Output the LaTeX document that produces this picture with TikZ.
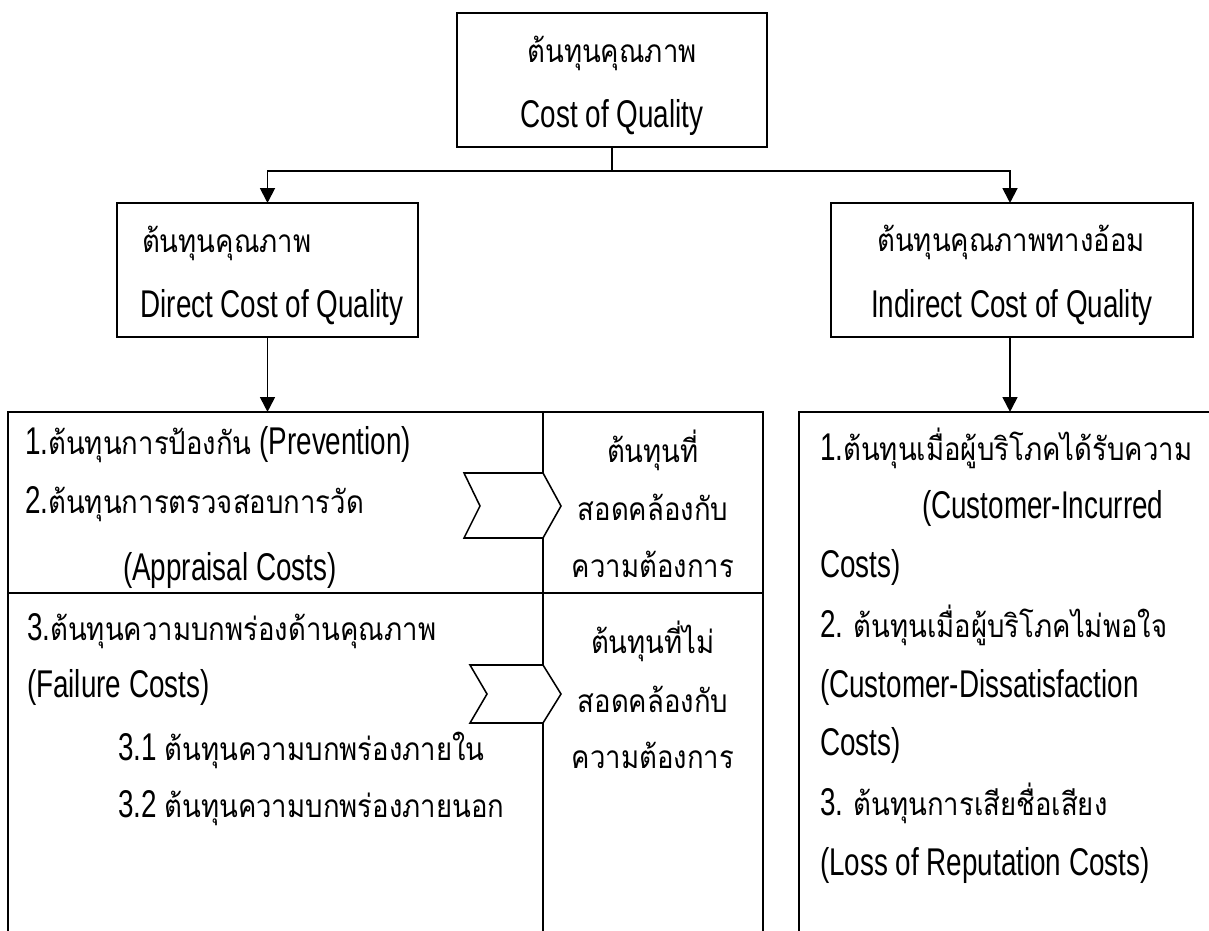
\documentclass[tikz,border=0pt]{standalone}
\usepackage{fontspec}
\setmainfont{Liberation Sans}[FakeStretch=0.72]
\newfontfamily\thaifont[Script=Thai,FakeStretch=0.87]{Loma}
\usetikzlibrary{arrows.meta}
% Thai runs are set in Loma at their own size
\newcommand\T[1]{{\fontsize{22.5}{26}\thaifont #1}}

\begin{document}
\begin{tikzpicture}[x=0.025cm,y=-0.025cm,
  every node/.style={font=\fontsize{27.5}{31}\selectfont, inner sep=0pt, outer sep=0pt},
  frame/.style={draw, line width=1.5pt, fill=none},
  divider/.style={line width=0.9pt},
  arr/.style={line width=1.4pt, -{Triangle[width=10.5pt,length=10.5pt]}},
  link/.style={line width=1.4pt},
  chev/.style={draw, line width=1.1pt, fill=white, line join=miter},
  lbl/.style={anchor=base west},
  cbl/.style={anchor=base}]
\useasboundingbox (0,0) rectangle (1209,931);
\fill[white] (0,0) rectangle (1209,931);
\clip (0,0) rectangle (1209,931);

% boxes
\node[frame, minimum width=7.75cm,   minimum height=3.35cm] (top)      at (612,80)    {};
\node[frame, minimum width=7.525cm,  minimum height=3.35cm] (direct)   at (267.5,270) {};
\node[frame, minimum width=9.05cm,   minimum height=3.35cm] (indirect) at (1012,270)  {};
\node[frame, minimum width=18.875cm, minimum height=14.7cm] (leftbox)  at (385.5,706) {};
\node[frame, minimum width=11.525cm, minimum height=14.7cm] (rightbox) at (1029.5,706) {};

% connectors
\coordinate (bus) at (612,171);
\draw[link] (top.south) -- (bus);
\draw[arr] (bus) -| (direct.north);
\draw[arr] (bus) -| ([xshift=-0.05cm]indirect.north);
\draw[arr] (direct.south) -- (direct.south |- leftbox.north);
\draw[arr] ([xshift=-0.05cm]indirect.south) -- ([xshift=-0.05cm]indirect.south |- rightbox.north);

% dividers inside the left box
\coordinate (colx) at (543,412);
\draw[divider] (colx) -- (543,1000);
\draw[divider] (leftbox.west |- 0,593) -- (leftbox.east |- 0,593);

% chevrons
\draw[chev] (464,473) -- (543,473) -- (561,506) -- (543,538) -- (464,538) -- (480,506) -- cycle;
\draw[chev] (470,665) -- (543,665) -- (561,694) -- (543,723) -- (470,723) -- (487,694) -- cycle;

% top box text
\node[cbl] (topth) at (612,63)  {\T{ต้นทุนคุณภาพ}};
\node[cbl] (topen) at (612,128) {Cost of Quality};

% direct / indirect text
\node[lbl] (dirth) at (142,253) {\T{ต้นทุนคุณภาพ}};
\node[cbl] (diren) at (272,318) {Direct Cost of Quality};
\node[cbl] (indth) at (1011,252) {\T{ต้นทุนคุณภาพทางอ้อม}};
\node[cbl] (inden) at (1012,318) {Indirect Cost of Quality};

% left box items
\node[lbl] (l1) at (25,454)  {1.\T{ต้นทุนการป้องกัน} (Prevention)};
\node[lbl] (l2) at (25,513)  {2.\T{ต้นทุนการตรวจสอบการวัด}};
\node[lbl] (l3) at (123,580) {(Appraisal Costs)};
\node[lbl] (l4) at (27,640)  {3.\T{ต้นทุนความบกพร่องด้านคุณภาพ}};
\node[lbl] (l5) at (27,697)  {(Failure Costs)};
\node[lbl] (l6) at (118,760) {3.1 \T{ต้นทุนความบกพร่องภายใน}};
\node[lbl] (l7) at (118,817) {3.2 \T{ต้นทุนความบกพร่องภายนอก}};

% conformance column
\node[cbl] (c1) at (653,462) {\T{ต้นทุนที่}};
\node[cbl] (c2) at (653,520) {\T{สอดคล้องกับ}};
\node[cbl] (c3) at (653,577) {\T{ความต้องการ}};
\node[cbl] (c4) at (653,653) {\T{ต้นทุนที่ไม่}};
\node[cbl] (c5) at (653,712) {\T{สอดคล้องกับ}};
\node[cbl] (c6) at (653,768) {\T{ความต้องการ}};

% right box items
\node[lbl] (r1) at (820,460) {1.\T{ต้นทุนเมื่อผู้บริโภคได้รับความ}};
\node[lbl] (r2) at (922,518) {(Customer-Incurred};
\node[lbl] (r3) at (820,577) {Costs)};
\node[lbl] (r4) at (820,637) {2. \T{ต้นทุนเมื่อผู้บริโภคไม่พอใจ}};
\node[lbl] (r5) at (820,697) {(Customer-Dissatisfaction};
\node[lbl] (r6) at (820,755) {Costs)};
\node[lbl] (r7) at (820,815) {3. \T{ต้นทุนการเสียชื่อเสียง}};
\node[lbl] (r8) at (820,875) {(Loss of Reputation Costs)};
\end{tikzpicture}
\end{document}
